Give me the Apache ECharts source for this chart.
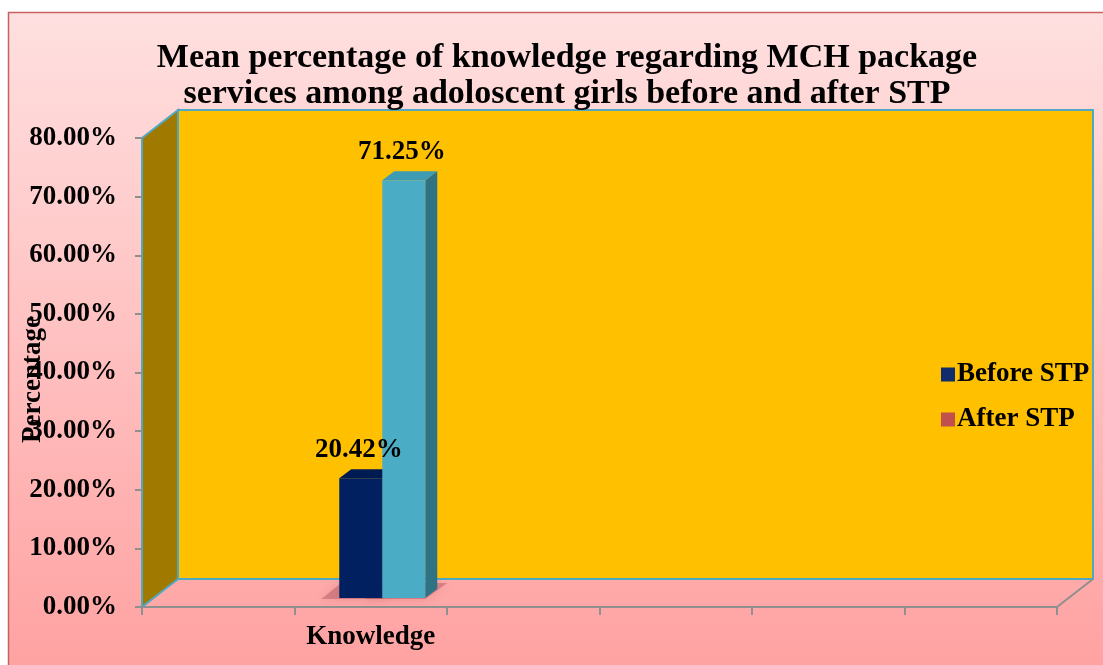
<!DOCTYPE html>
<html>
<head>
<meta charset="utf-8">
<script src="https://cdn.jsdelivr.net/npm/echarts@6/dist/echarts.min.js"></script>
<style>
  html, body { margin: 0; padding: 0; background: #fff; }
  #chart { width: 1103px; height: 665px; }
</style>
</head>
<body>
<div id="chart"></div>
<script>
// data
const categories = ['', 'Knowledge', '', '', '', ''];
const beforeSTP = ['-', 20.42, '-', '-', '-', '-'];
const afterSTP = ['-', 71.25, '-', '-', '-', '-'];
const yTicks = [0, 10, 20, 30, 40, 50, 60, 70, 80];

// layout of the front plane and the depth offset of the back wall
const GL = 142, GT = 138, GW = 915, GH = 469;
const DX = 36, DY = -28;
const FONT = '"Liberation Serif", "Times New Roman", serif';

const faces = [
    { front: '#002060', top: '#001a52', side: '#00163f' },
    { front: '#4bacc6', top: '#3d9bb4', side: '#2f7284' }
];

const chart = echarts.init(document.getElementById('chart'));

function renderBar(params, api) {
    const v = api.value(1);
    if (isNaN(v)) return;
    const x = api.value(0);
    const top = api.coord([x, v]);
    const base = api.coord([x, 0]);
    const band = api.size([1, 0])[0];
    const w = band * 0.282;
    const fx = DX * 0.32, fy = DY * 0.32;
    const bdx = 12, bdy = -9;
    const x0 = base[0] + fx + (params.seriesIndex === 0 ? -w : 0);
    const x1 = x0 + w;
    const yb = base[1] + fy;
    const yt = top[1] + fy;
    const c = faces[params.seriesIndex];
    return {
        type: 'group',
        children: [
            {
                // soft shadow on the floor
                type: 'polygon',
                shape: { points: [[x0 - 18, yb + 1], [x1, yb + 1], [x1 + bdx + 10, yb + bdy - 6], [x0 + 2, yb + bdy - 6]] },
                style: { fill: 'rgba(140,50,65,0.32)', shadowBlur: 12, shadowColor: 'rgba(140,50,65,0.55)' },
                z2: 0
            },
            {
                type: 'polygon',
                shape: { points: [[x1, yt], [x1 + bdx, yt + bdy], [x1 + bdx, yb + bdy], [x1, yb]] },
                style: { fill: c.side },
                z2: 1
            },
            {
                type: 'polygon',
                shape: { points: [[x0, yt], [x0 + bdx, yt + bdy], [x1 + bdx, yt + bdy], [x1, yt]] },
                style: { fill: c.top },
                z2: 1
            },
            {
                type: 'rect',
                shape: { x: x0, y: yt, width: w, height: yb - yt },
                style: { fill: c.front },
                z2: 2
            },
            {
                type: 'text',
                x: (x0 + x1) / 2 - 2,
                y: yt + bdy - 6,
                style: {
                    text: v.toFixed(2) + '%',
                    fill: '#000',
                    font: 'bold 27px ' + FONT,
                    align: 'center',
                    verticalAlign: 'bottom'
                },
                z2: 3
            }
        ]
    };
}

const option = {
    animation: false,
    backgroundColor: '#fff',
    title: {
        text: 'Mean percentage of knowledge regarding MCH package\nservices among adoloscent girls before and after STP',
        left: 562,
        top: 35,
        textAlign: 'center',
        textStyle: {
            fontFamily: FONT,
            fontWeight: 'bold',
            fontSize: 34,
            lineHeight: 36,
            color: '#000'
        }
    },
    legend: {
        orient: 'vertical',
        left: 936,
        top: 356,
        itemWidth: 14,
        itemHeight: 14,
        itemGap: 18,
        icon: 'rect',
        textStyle: {
            fontFamily: FONT,
            fontWeight: 'bold',
            fontSize: 27,
            lineHeight: 27,
            color: '#000',
            padding: [0, 0, 0, -3]
        },
        data: ['Before STP', 'After STP']
    },
    grid: { left: GL, top: GT, width: GW, height: GH, containLabel: false, outerBoundsMode: 'none' },
    xAxis: {
        type: 'category',
        data: categories,
        axisLine: { lineStyle: { color: '#8f8f8f', width: 2 } },
        axisTick: { show: true, length: 8, lineStyle: { color: '#8f8f8f', width: 2 } },
        axisLabel: {
            interval: 0,
            margin: 17,
            fontFamily: FONT,
            fontWeight: 'bold',
            fontSize: 27,
            color: '#000'
        }
    },
    yAxis: {
        type: 'value',
        min: yTicks[0],
        max: yTicks[yTicks.length - 1],
        interval: 10,
        name: 'Percentage',
        nameLocation: 'middle',
        nameGap: 95,
        nameMoveOverlap: false,
        nameTextStyle: {
            fontFamily: FONT,
            fontWeight: 'bold',
            fontSize: 27,
            color: '#000',
            padding: [0, 14, 0, 0]
        },
        axisLine: { show: false },
        axisTick: { show: true, length: 7, lineStyle: { color: '#8f8f8f', width: 2 } },
        splitLine: { show: false },
        axisLabel: {
            margin: 25,
            fontFamily: FONT,
            fontWeight: 'bold',
            fontSize: 27,
            color: '#000',
            formatter: v => v.toFixed(2) + '%'
        }
    },
    graphic: [
        {
            type: 'rect',
            z: -3,
            shape: { x: 8.5, y: 12.5, width: 1200, height: 660 },
            style: {
                fill: new echarts.graphic.LinearGradient(0, 0, 0, 1, [
                    { offset: 0, color: '#ffe0e0' },
                    { offset: 1, color: '#ffa1a1' }
                ]),
                stroke: '#c9605e',
                lineWidth: 1.5
            }
        },
        {
            // back wall
            type: 'rect',
            z: -2,
            shape: { x: GL + DX, y: GT + DY, width: GW, height: GH },
            style: { fill: '#ffc000', stroke: '#4fa9c4', lineWidth: 2 }
        },
        {
            // left side wall
            type: 'polygon',
            z: -2,
            shape: { points: [[GL, GT], [GL + DX, GT + DY], [GL + DX, GT + GH + DY], [GL, GT + GH]] },
            style: { fill: '#a07a00', stroke: '#4fa9c4', lineWidth: 2 }
        },
        {
            // floor right edge
            type: 'polyline',
            z: -1,
            shape: { points: [[GL + GW, GT + GH], [GL + GW + DX, GT + GH + DY]] },
            style: { stroke: '#8f8f8f', lineWidth: 2 }
        }
    ],
    series: [
        {
            name: 'Before STP',
            type: 'custom',
            renderItem: renderBar,
            itemStyle: { color: '#102c6c' },
            encode: { x: 0, y: 1 },
            data: beforeSTP.map((v, i) => [i, v])
        },
        {
            name: 'After STP',
            type: 'custom',
            renderItem: renderBar,
            itemStyle: { color: '#c0504d' },
            encode: { x: 0, y: 1 },
            data: afterSTP.map((v, i) => [i, v])
        }
    ]
};

chart.setOption(option);

window.addEventListener('resize', () => {
    chart.resize();
});
</script>
</body>
</html>
